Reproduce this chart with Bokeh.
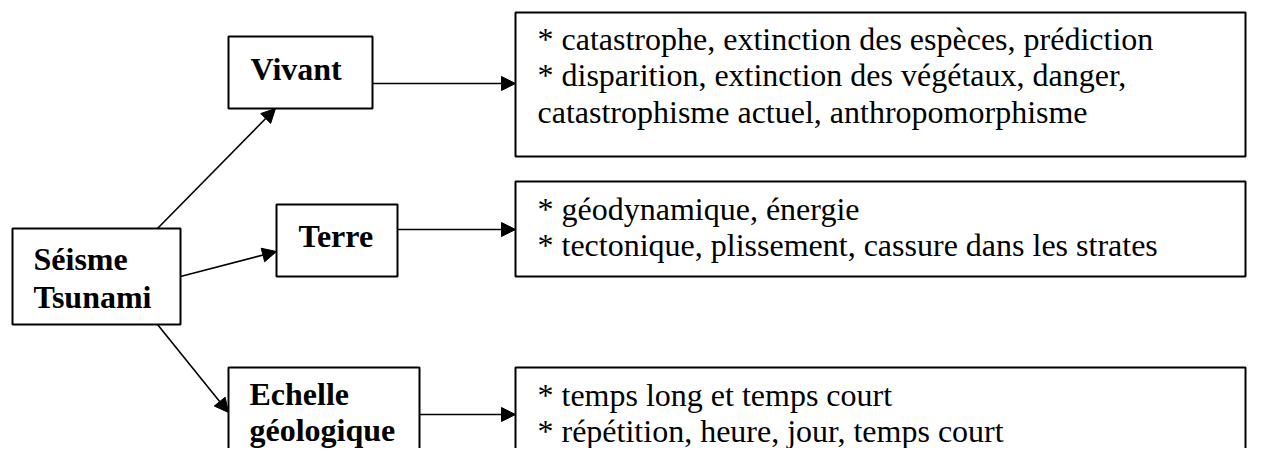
from bokeh.plotting import figure
from bokeh.models import Range1d, Arrow, NormalHead
from bokeh.core.properties import value
from bokeh.embed import file_html
from bokeh.resources import INLINE

# ---- content ----
center_label = ["Séisme", "Tsunami"]
theme_labels = [["Vivant"], ["Terre"], ["Echelle", "géologique"]]
theme_notes = [
    ["* catastrophe, extinction des espèces, prédiction",
     "* disparition, extinction des végétaux, danger,",
     "catastrophisme actuel, anthropomorphisme"],
    ["* géodynamique, énergie",
     "* tectonique, plissement, cassure dans les strates"],
    ["* temps long et temps court",
     "* répétition, heure, jour, temps court"],
]

# ---- layout (pixel coordinates, origin at top-left) ----
center_box = (12, 180, 228, 324)
theme_boxes = [(228, 372, 36, 108), (276, 397, 204, 276), (228, 419, 367, 500)]
note_boxes = [(515, 1245, 12, 156), (515, 1245, 181, 276), (515, 1245, 367, 500)]
center_text = (33, [258, 296])
theme_text = [(250, [68]), (298, [235]), (249, [393, 429])]
note_text = [(537, [38, 74, 111]), (537, [208, 244]), (537, [394, 430])]
link_y = [83, 229, 414]
center_links = [((157, 228), (275, 108)), ((180, 276), (276, 251)), ((157, 324), (228, 412))]

FONT = value("Liberation Serif")

p = figure(width=1247, height=448, output_backend="svg", toolbar_location=None,
           x_range=Range1d(0, 1247), y_range=Range1d(448, 0), min_border=0)
p.axis.visible = False
p.grid.visible = False
p.outline_line_color = None
p.background_fill_color = "white"
p.border_fill_color = "white"

boxes = [center_box] + theme_boxes + note_boxes
p.quad(left=[b[0] for b in boxes], right=[b[1] for b in boxes],
       top=[b[2] for b in boxes], bottom=[b[3] for b in boxes],
       fill_color=None, line_color="black", line_width=2)

# bold labels
bx, by, bt = [], [], []
for i, t in enumerate(center_label):
    bx.append(center_text[0]); by.append(center_text[1][i]); bt.append(t)
for labels, (x, ys) in zip(theme_labels, theme_text):
    for t, y in zip(labels, ys):
        bx.append(x); by.append(y); bt.append(t)
p.text(x=bx, y=by, text=bt, text_font=FONT, text_font_size="32px",
       text_font_style="bold", text_color="black",
       text_align="left", text_baseline="alphabetic")

# notes
nx, ny, nt = [], [], []
for lines, (x, ys) in zip(theme_notes, note_text):
    for t, y in zip(lines, ys):
        nx.append(x); ny.append(y); nt.append(t)
p.text(x=nx, y=ny, text=nt, text_font=FONT, text_font_size="32px",
       text_color="black", text_align="left", text_baseline="alphabetic")

def arrow(x0, y0, x1, y1):
    p.add_layout(Arrow(end=NormalHead(size=14, fill_color="black", line_color="black", line_width=1),
                       x_start=x0, y_start=y0, x_end=x1, y_end=y1,
                       line_color="black", line_width=1.6))

for tb, nb, y in zip(theme_boxes, note_boxes, link_y):
    arrow(tb[1], y, nb[0], y)
for (a, b) in center_links:
    arrow(a[0], a[1], b[0], b[1])

open("out.html", "w").write(file_html(p, INLINE))
